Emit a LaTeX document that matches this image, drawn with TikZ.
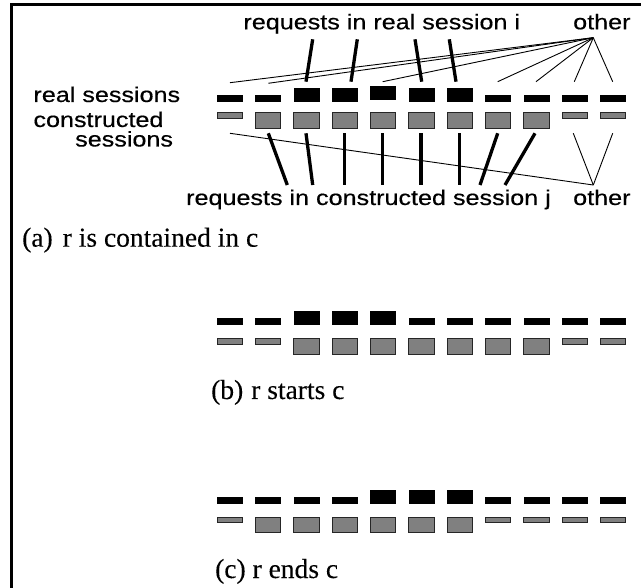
\documentclass[tikz,border=0pt]{standalone}
\usepackage{fontspec}
\setmainfont{Liberation Serif}
\newfontfamily\hv[FakeStretch=1.18,FakeBold=0.4]{Liberation Sans}
\newfontfamily\tm[FakeBold=0.2]{Liberation Serif}
\definecolor{midgrey}{RGB}{128,128,128}
\newcommand\sessrow[4]{%
  \foreach \k/\b/\g/\o in {#4} {
    \pgfmathsetmacro\bx{216.7+38.33*(\k-1)}
    \pgfmathsetmacro\bh{7.2+\b*7.0}
    \pgfmathsetmacro\gh{5.8+\g*9.7}
    \pgfmathsetmacro\by{#2+\o}
    \node[blackbar, minimum height=\bh pt, anchor=south west] (#1b\k) at (\bx,\by) {};
    \node[greybar, minimum height=\gh pt, anchor=north west] (#1g\k) at (\bx,#3) {};
  }%
}
\begin{document}
\begin{tikzpicture}[x=1pt,y=-1pt,
  lbl/.style={font=\hv\fontsize{21.3}{21.3}\selectfont, inner sep=0pt, anchor=base west},
  captxt/.style={font=\tm\fontsize{27.5}{27.5}\selectfont, inner sep=0pt, anchor=base west},
  thinln/.style={line width=0.9pt},
  thickln/.style={line width=3.3pt},
  frameln/.style={line width=3pt},
  blackbar/.style={fill=black, draw=none, inner sep=0pt, minimum width=26pt},
  greybar/.style={fill=midgrey, draw=black!85, line width=0.8pt, inner sep=0pt, minimum width=25.2pt}
]
\useasboundingbox (0,0) rectangle (641,588);

% frame
\coordinate (fbl) at (11.5,588);
\coordinate (ftl) at (11.5,4.7);
\coordinate (ftr) at (641,4.7);
\draw[frameln] (fbl) -- (ftl) -- (ftr);

% labels
\node[lbl] (lreq) at (243.3,29.3) {requests in real session i};
\node[lbl] (lothT) at (573,29.3) {other};
\node[lbl] (lreal) at (33.3,102) {real sessions};
\node[lbl] (lcons) at (33.3,127) {constructed};
\node[lbl] (lsess) at (75,146.5) {sessions};
\node[lbl] (lreqc) at (186,205) {requests in constructed session j};
\node[lbl] (lothB) at (573,205) {other};

% bar rows
\sessrow{a}{102.3}{112.3}{1/0/0/0,2/0/1/0,3/1/1/0,4/1/1/0,5/1/1/-2.3,6/1/1/0,7/1/1/0,8/0/1/0,9/0/1/0,10/0/0/0,11/0/0/0}
\sessrow{b}{325.7}{338.3}{1/0/0/0,2/0/0/0,3/1/1/0,4/1/1/0,5/1/1/0,6/0/1/0,7/0/1/0,8/0/1/0,9/0/1/0,10/0/0/0,11/0/0/0}
\sessrow{c}{504}{516.7}{1/0/0/0,2/0/1/0,3/0/1/0,4/0/1/0,5/1/1/0,6/1/1/0,7/1/1/0,8/0/0/0,9/0/0/0,10/0/0/0,11/0/0/0}

% connector ends
\coordinate (oT) at (593.3,37.7);
\coordinate (oB) at (593.3,185);
\coordinate (t1) at (230,82.7);
\coordinate (t2) at (268.3,83.3);
\coordinate (t5) at (382.7,81.7);
\coordinate (t8) at (497.7,81.7);
\coordinate (t9) at (536,81.7);
\coordinate (t10) at (574.3,81.7);
\coordinate (t11) at (612.7,81.7);
\coordinate (s3a) at (306,81.7);   \coordinate (s3b) at (312.7,39.3);
\coordinate (s4a) at (351,81.7);   \coordinate (s4b) at (357.3,39.3);
\coordinate (s6a) at (421.7,81.7); \coordinate (s6b) at (415,39.3);
\coordinate (s7a) at (456,81.7);   \coordinate (s7b) at (449.3,39.3);
\coordinate (u1) at (230,133.3);
\coordinate (u10) at (573.3,133.3);
\coordinate (u11) at (612.7,133.3);
\coordinate (c2a) at (268.3,133.3); \coordinate (c2b) at (287.3,185);
\coordinate (c3a) at (306,133.3);   \coordinate (c3b) at (312.7,185);
\coordinate (c4a) at (344.3,133.3); \coordinate (c4b) at (344.3,185);
\coordinate (c5a) at (382.7,133.3); \coordinate (c5b) at (382.7,185);
\coordinate (c6a) at (421,133.3);   \coordinate (c6b) at (421,185);
\coordinate (c7a) at (459.3,133.3); \coordinate (c7b) at (459.3,185);
\coordinate (c8a) at (497.7,133.3); \coordinate (c8b) at (480,185);
\coordinate (c9a) at (535,133.3);   \coordinate (c9b) at (505,185);

% thin connectors to "other"
\foreach \p in {t1,t2,t5,t8,t9,t10,t11} \draw[thinln] (oT) -- (\p);
\foreach \p in {u1,u10,u11} \draw[thinln] (oB) -- (\p);
% thick connectors
\foreach \p in {s3,s4,s6,s7} \draw[thickln] (\p a) -- (\p b);
\foreach \p in {c2,c3,c4,c5,c6,c7,c8,c9} \draw[thickln] (\p a) -- (\p b);

% captions
\node[captxt] (capa) at (22,246.7) {(a)\hspace{10pt}r is contained in c};
\node[captxt] (capb) at (211,399) {(b)\hspace{8pt}r starts c};
\node[captxt] (capc) at (215,578) {(c) r ends c};
\end{tikzpicture}
\end{document}
